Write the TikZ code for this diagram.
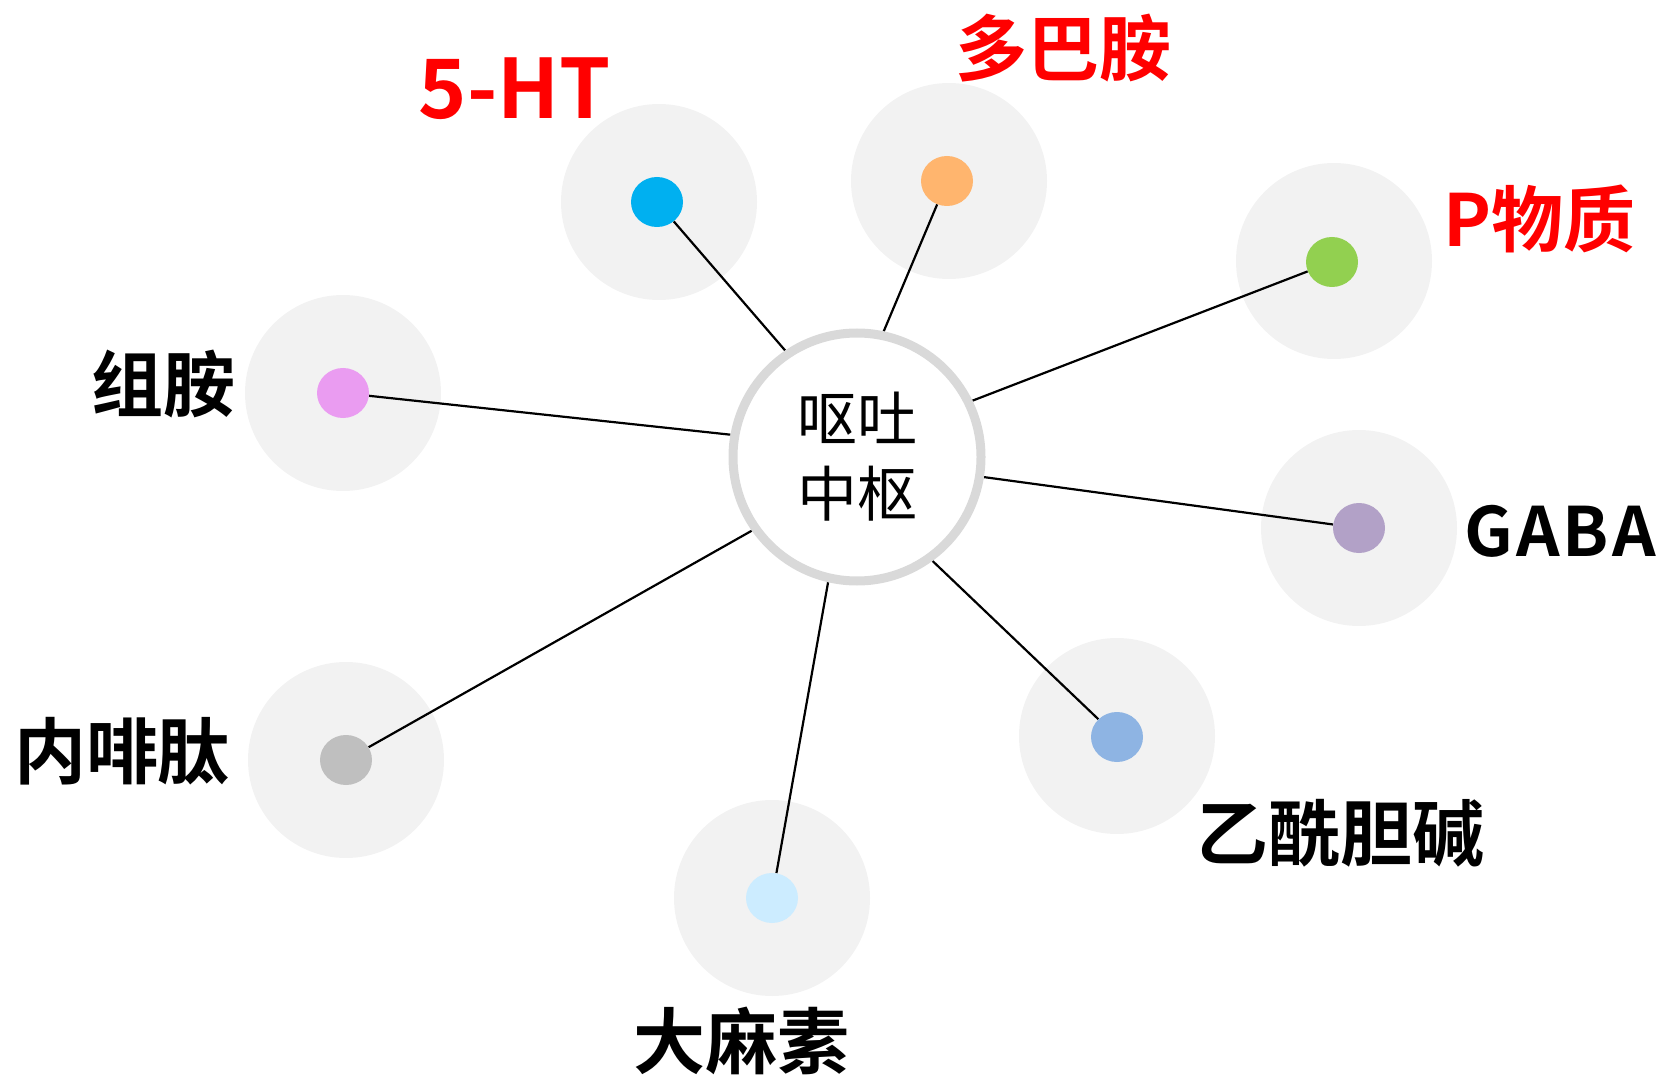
\documentclass[tikz,border=0pt]{standalone}
\usepackage{fontspec}
\newfontfamily\cjkb{Noto Sans CJK SC Bold}
\newfontfamily\cjkr{Noto Sans CJK SC}
\usetikzlibrary{backgrounds}
\pgfdeclarelayer{bgg}
\pgfsetlayers{bgg,background,main}
\definecolor{halo}{HTML}{F2F2F2}
\definecolor{ringc}{HTML}{D9D9D9}
\definecolor{cA}{HTML}{00B0F0}
\definecolor{cB}{HTML}{FFB56E}
\definecolor{cC}{HTML}{92D050}
\definecolor{cD}{HTML}{B2A1C7}
\definecolor{cE}{HTML}{8EB4E3}
\definecolor{cF}{HTML}{CCECFF}
\definecolor{cG}{HTML}{BFBFBF}
\definecolor{cH}{HTML}{EA9CF1}
\definecolor{redt}{HTML}{FF0000}
\tikzset{
  dotn/.style={ellipse, minimum width=52pt, minimum height=50pt, inner sep=0pt, fill=#1},
  halon/.style={circle, minimum size=196pt, inner sep=0pt, fill=halo},
  lab/.style={font=\cjkb\fontsize{72}{80}\selectfont, inner sep=0pt, anchor=center},
  conn/.style={line width=2.2pt, black},
}
\usetikzlibrary{shapes.geometric}
\begin{document}
\begin{tikzpicture}[x=1pt,y=-1pt]
\useasboundingbox (0,0) rectangle (1666,1075);
% hub
\node[circle, minimum size=248pt, inner sep=0pt, draw=ringc, line width=9pt, fill=white,
      align=center, font=\cjkr\fontsize{60}{75}\selectfont] (hub) at (857,457) {呕吐\\中枢};
% dots
\node[dotn=cA] (d5ht) at (657,202) {};
\node[dotn=cB] (ddop) at (947,181) {};
\node[dotn=cC] (dsp) at (1332,262) {};
\node[dotn=cD] (dgaba) at (1359,528) {};
\node[dotn=cE] (dach) at (1117,737) {};
\node[dotn=cF] (dcan) at (772,898) {};
\node[dotn=cG] (dend) at (346,760) {};
\node[dotn=cH] (dhis) at (343,393) {};
% halos
\begin{pgfonlayer}{bgg}
\node[halon] (h5ht) at (659,202) {};
\node[halon] (hdop) at (949,181) {};
\node[halon] (hsp) at (1334,261) {};
\node[halon] (hgaba) at (1359,528) {};
\node[halon] (hach) at (1117,736) {};
\node[halon] (hcan) at (772,898) {};
\node[halon] (hend) at (346,760) {};
\node[halon] (hhis) at (343,393) {};
\end{pgfonlayer}
% connectors
\begin{pgfonlayer}{background}
\draw[conn] (hub.124.6) -- (d5ht);
\draw[conn] (hub.78.7) -- (ddop);
\draw[conn] (hub.26.2) -- (dsp);
\draw[conn] (hub.-9.9) -- (dgaba);
\draw[conn] (hub.-54.2) -- (dach);
\draw[conn] (hub.-103.8) -- (dcan);
\draw[conn] (hub.215.5) -- (dend);
\draw[conn] (hub.170.4) -- (dhis);
\end{pgfonlayer}
% labels
\node[lab, text=redt, font=\cjkb\fontsize{82}{90}\selectfont] (l5ht) at (515,89) {5-HT};
\node[lab, text=redt] (ldop) at (1063,48) {多巴胺};
\node[lab, text=redt] (lsp) at (1539,219) {P物质};
\node[lab, font=\cjkb\fontsize{68}{80}\selectfont] (lgaba) at (1560,531) {G\kern3pt A\kern3pt B\kern3pt A};
\node[lab] (lach) at (1340,833) {乙酰胆碱};
\node[lab] (lcan) at (741,1041) {大麻素};
\node[lab] (lend) at (122,751) {内啡肽};
\node[lab] (lhis) at (163,384) {组胺};
\end{tikzpicture}
\end{document}
